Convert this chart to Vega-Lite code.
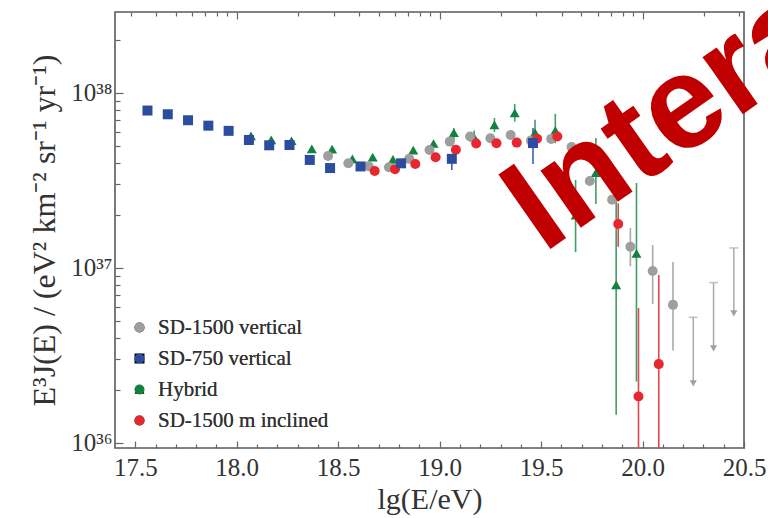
{
  "$schema": "https://vega.github.io/schema/vega-lite/v6.json",
  "width": 629,
  "height": 436,
  "autosize": {"type": "none"},
  "padding": {"left": 115, "top": 12, "right": 24, "bottom": 70},
  "background": "white",
  "config": {
    "view": {"stroke": "#5a5a5a", "strokeWidth": 1.6},
    "font": "Liberation Serif",
    "axis": {"domain": false, "grid": false, "tickColor": "#666666", "tickWidth": 1.2, "labelColor": "#333333", "titleColor": "#333333", "labelFont": "Liberation Serif", "titleFont": "Liberation Serif", "titleFontWeight": "normal", "labelFlush": false, "labelOverlap": false},
    "legend": {"labelFont": "Liberation Serif", "labelFontSize": 21, "labelColor": "#333333", "labelLimit": 0, "symbolSize": 100, "rowPadding": 9, "padding": 0, "labelOffset": 8, "symbolStrokeWidth": 0}
  },
  "datasets": {
    "pts": [
      {"s": "Hybrid", "lg": 18.07, "f": 5.68e37},
      {"s": "Hybrid", "lg": 18.17, "f": 5.39e37},
      {"s": "Hybrid", "lg": 18.27, "f": 5.33e37},
      {"s": "Hybrid", "lg": 18.37, "f": 4.79e37},
      {"s": "Hybrid", "lg": 18.47, "f": 4.77e37},
      {"s": "Hybrid", "lg": 18.57, "f": 4.2e37},
      {"s": "Hybrid", "lg": 18.67, "f": 4.3e37},
      {"s": "Hybrid", "lg": 18.77, "f": 4.17e37},
      {"s": "Hybrid", "lg": 18.87, "f": 4.71e37},
      {"s": "Hybrid", "lg": 18.97, "f": 5.14e37},
      {"s": "Hybrid", "lg": 19.07, "f": 5.93e37, "lo": 5.25e37, "hi": 6.31e37},
      {"s": "Hybrid", "lg": 19.17, "f": 5.58e37, "lo": 5.16e37, "hi": 6.1e37},
      {"s": "Hybrid", "lg": 19.27, "f": 6.56e37, "lo": 5.98e37, "hi": 7.19e37},
      {"s": "Hybrid", "lg": 19.37, "f": 7.69e37, "lo": 6.86e37, "hi": 8.65e37},
      {"s": "Hybrid", "lg": 19.47, "f": 5.94e37, "lo": 5.27e37, "hi": 7.02e37},
      {"s": "Hybrid", "lg": 19.57, "f": 6.1e37, "lo": 5.16e37, "hi": 7.59e37},
      {"s": "Hybrid", "lg": 19.67, "f": 2.0e37, "lo": 1.23e37, "hi": 3.18e37},
      {"s": "Hybrid", "lg": 19.77, "f": 3.5e37, "lo": 2.32e37, "hi": 5.53e37},
      {"s": "Hybrid", "lg": 19.87, "f": 8.0e36, "lo": 1.45e36, "hi": 2.45e37},
      {"s": "Hybrid", "lg": 19.97, "f": 1.21e37, "lo": 2.24e36, "hi": 3.06e37},
      {"s": "SD-1500 vertical", "lg": 18.45, "f": 4.36e37},
      {"s": "SD-1500 vertical", "lg": 18.55, "f": 3.96e37},
      {"s": "SD-1500 vertical", "lg": 18.65, "f": 3.81e37},
      {"s": "SD-1500 vertical", "lg": 18.75, "f": 3.76e37},
      {"s": "SD-1500 vertical", "lg": 18.85, "f": 4.2e37},
      {"s": "SD-1500 vertical", "lg": 18.95, "f": 4.72e37},
      {"s": "SD-1500 vertical", "lg": 19.05, "f": 5.27e37},
      {"s": "SD-1500 vertical", "lg": 19.15, "f": 5.63e37},
      {"s": "SD-1500 vertical", "lg": 19.25, "f": 5.51e37},
      {"s": "SD-1500 vertical", "lg": 19.35, "f": 5.75e37},
      {"s": "SD-1500 vertical", "lg": 19.45, "f": 5.34e37},
      {"s": "SD-1500 vertical", "lg": 19.55, "f": 5.46e37},
      {"s": "SD-1500 vertical", "lg": 19.65, "f": 4.91e37},
      {"s": "SD-1500 vertical", "lg": 19.74, "f": 3.14e37},
      {"s": "SD-1500 vertical", "lg": 19.85, "f": 2.45e37},
      {"s": "SD-1500 vertical", "lg": 19.94, "f": 1.32e37, "lo": 1.02e37, "hi": 1.69e37},
      {"s": "SD-1500 vertical", "lg": 20.05, "f": 9.6e36, "lo": 6.22e36, "hi": 1.35e37},
      {"s": "SD-1500 vertical", "lg": 20.15, "f": 6.15e36, "lo": 3.37e36, "hi": 1.08e37},
      {"s": "SD-1500 m inclined", "lg": 18.68, "f": 3.58e37},
      {"s": "SD-1500 m inclined", "lg": 18.78, "f": 3.66e37},
      {"s": "SD-1500 m inclined", "lg": 18.88, "f": 3.92e37},
      {"s": "SD-1500 m inclined", "lg": 18.98, "f": 4.29e37},
      {"s": "SD-1500 m inclined", "lg": 19.08, "f": 4.73e37},
      {"s": "SD-1500 m inclined", "lg": 19.18, "f": 5.14e37},
      {"s": "SD-1500 m inclined", "lg": 19.28, "f": 5.16e37},
      {"s": "SD-1500 m inclined", "lg": 19.38, "f": 5.2e37},
      {"s": "SD-1500 m inclined", "lg": 19.48, "f": 5.48e37},
      {"s": "SD-1500 m inclined", "lg": 19.58, "f": 5.64e37},
      {"s": "SD-1500 m inclined", "lg": 19.88, "f": 1.78e37, "lo": 1.32e37, "hi": 2.34e37},
      {"s": "SD-1500 m inclined", "lg": 19.98, "f": 1.84e36, "lo": 3e35, "hi": 5.9e36},
      {"s": "SD-1500 m inclined", "lg": 20.08, "f": 2.82e36, "lo": 3e35, "hi": 9.12e36},
      {"s": "SD-750 vertical", "lg": 17.56, "f": 7.93e37},
      {"s": "SD-750 vertical", "lg": 17.66, "f": 7.55e37},
      {"s": "SD-750 vertical", "lg": 17.76, "f": 6.98e37},
      {"s": "SD-750 vertical", "lg": 17.86, "f": 6.5e37},
      {"s": "SD-750 vertical", "lg": 17.96, "f": 6.07e37},
      {"s": "SD-750 vertical", "lg": 18.06, "f": 5.38e37},
      {"s": "SD-750 vertical", "lg": 18.16, "f": 5.02e37},
      {"s": "SD-750 vertical", "lg": 18.26, "f": 5.04e37},
      {"s": "SD-750 vertical", "lg": 18.36, "f": 4.14e37},
      {"s": "SD-750 vertical", "lg": 18.46, "f": 3.72e37},
      {"s": "SD-750 vertical", "lg": 18.61, "f": 3.8e37},
      {"s": "SD-750 vertical", "lg": 18.81, "f": 3.96e37},
      {"s": "SD-750 vertical", "lg": 19.06, "f": 4.2e37, "lo": 3.63e37, "hi": 4.43e37},
      {"s": "SD-750 vertical", "lg": 19.46, "f": 5.17e37, "lo": 3.93e37, "hi": 6.31e37}
    ],
    "ul": [
      {"lg": 20.25, "cap": 5.22e36, "ar": 2.19e36},
      {"lg": 20.35, "cap": 8.24e36, "ar": 3.47e36},
      {"lg": 20.45, "cap": 1.30e37, "ar": 5.5e36}
    ],
    "wm": [
      {"lg": 19.51, "f": 1.2e37, "t": "Intera"}
    ]
  },
  "layer": [
    {
      "data": {"name": "pts"},
      "mark": {"type": "point", "opacity": 0},
      "encoding": {
        "x": {"field": "lg", "type": "quantitative", "scale": {"domain": [17.4, 20.5], "nice": false, "zero": false},
              "axis": {"orient": "bottom", "values": [17.6,17.7,17.8,17.9,18.1,18.2,18.3,18.4,18.6,18.7,18.8,18.9,19.1,19.2,19.3,19.4,19.6,19.7,19.8,19.9,20.1,20.2,20.3,20.4], "labels": false, "tickSize": -4, "title": null}},
        "y": {"field": "f", "type": "quantitative", "scale": {"type": "log", "domain": [9.35e35, 2.9e38], "nice": false},
              "axis": {"orient": "left", "values": [2e36,3e36,4e36,5e36,6e36,7e36,8e36,9e36,2e37,3e37,4e37,5e37,6e37,7e37,8e37,9e37,2e38], "labels": false, "tickSize": -5, "title": null}}
      }
    },
    {
      "data": {"name": "pts"},
      "mark": {"type": "point", "opacity": 0},
      "encoding": {
        "x": {"field": "lg", "type": "quantitative", "scale": {"domain": [17.4, 20.5], "nice": false, "zero": false},
              "axis": {"orient": "top", "values": [18, 19, 20], "labels": false, "tickSize": -7, "title": null}},
        "y": {"field": "f", "type": "quantitative", "scale": {"type": "log", "domain": [9.35e35, 2.9e38], "nice": false}, "axis": null}
      }
    },
    {
      "data": {"name": "pts"},
      "mark": {"type": "point", "opacity": 0},
      "encoding": {
        "x": {"field": "lg", "type": "quantitative", "scale": {"domain": [17.4, 20.5], "nice": false, "zero": false},
              "axis": {"orient": "top", "values": [17.47712,17.60206,17.69897,17.77815,17.8451,17.90309,17.95424,18.30103,18.47712,18.60206,18.69897,18.77815,18.8451,18.90309,18.95424,19.30103,19.47712,19.60206,19.69897,19.77815,19.8451,19.90309,19.95424,20.30103,20.47712], "labels": false, "tickSize": -4, "title": null}},
        "y": {"field": "f", "type": "quantitative", "scale": {"type": "log", "domain": [9.35e35, 2.9e38], "nice": false}, "axis": null}
      }
    },
    {
      "data": {"name": "pts"},
      "transform": [{"filter": "isValid(datum.lo)"}],
      "mark": {"type": "rule", "strokeWidth": 1.6, "clip": true},
      "encoding": {
        "x": {"field": "lg", "type": "quantitative", "scale": {"domain": [17.4, 20.5], "nice": false, "zero": false},
              "axis": {"orient": "bottom", "values": [17.5, 18, 18.5, 19, 19.5, 20, 20.5], "format": ".1f", "tickSize": -7, "labelPadding": 14, "labelFontSize": 25, "title": "lg(E/eV)", "titleFontSize": 30, "titlePadding": 4}},
        "y": {"field": "lo", "type": "quantitative", "scale": {"type": "log", "domain": [9.35e35, 2.9e38], "nice": false},
              "axis": {"orient": "left", "values": [1e36, 1e37, 1e38], "tickSize": -8, "labelPadding": 11, "labelFontSize": 25,
                       "labelExpr": "round(log(datum.value)/LN10) == 36 ? '10³⁶' : round(log(datum.value)/LN10) == 37 ? '10³⁷' : '10³⁸'",
                       "title": "E³J(E) / (eV² km⁻² sr⁻¹ yr⁻¹)", "titleFontSize": 32, "titlePadding": 9}},
        "y2": {"field": "hi"},
        "color": {"field": "s", "type": "nominal", "legend": null,
                  "scale": {"domain": ["SD-1500 vertical", "SD-750 vertical", "Hybrid", "SD-1500 m inclined"], "range": ["#aaaaaa", "#4061b0", "#3f9e68", "#e4464e"]}}
      }
    },
    {
      "data": {"name": "ul"},
      "mark": {"type": "rule", "strokeWidth": 1.5, "color": "#aaaaaa"},
      "encoding": {
        "x": {"field": "lg", "type": "quantitative", "scale": {"domain": [17.4, 20.5], "nice": false, "zero": false}, "axis": null},
        "y": {"field": "cap", "type": "quantitative", "scale": {"type": "log", "domain": [9.35e35, 2.9e38], "nice": false}, "axis": null},
        "y2": {"field": "ar"}
      }
    },
    {
      "data": {"name": "ul"},
      "mark": {"type": "tick", "orient": "horizontal", "size": 9, "thickness": 1.5, "color": "#aaaaaa"},
      "encoding": {
        "x": {"field": "lg", "type": "quantitative", "scale": {"domain": [17.4, 20.5], "nice": false, "zero": false}, "axis": null},
        "y": {"field": "cap", "type": "quantitative", "scale": {"type": "log", "domain": [9.35e35, 2.9e38], "nice": false}, "axis": null}
      }
    },
    {
      "data": {"name": "ul"},
      "mark": {"type": "point", "shape": "triangle-down", "filled": true, "size": 50, "opacity": 1, "color": "#a0a0a0"},
      "encoding": {
        "x": {"field": "lg", "type": "quantitative", "scale": {"domain": [17.4, 20.5], "nice": false, "zero": false}, "axis": null},
        "y": {"field": "ar", "type": "quantitative", "scale": {"type": "log", "domain": [9.35e35, 2.9e38], "nice": false}, "axis": null}
      }
    },
    {
      "data": {"name": "pts"},
      "mark": {"type": "point", "filled": true, "size": 100, "opacity": 1},
      "encoding": {
        "x": {"field": "lg", "type": "quantitative", "scale": {"domain": [17.4, 20.5], "nice": false, "zero": false}, "axis": null},
        "y": {"field": "f", "type": "quantitative", "scale": {"type": "log", "domain": [9.35e35, 2.9e38], "nice": false}, "axis": null},
        "color": {"field": "s", "type": "nominal",
                  "scale": {"domain": ["SD-1500 vertical", "SD-750 vertical", "Hybrid", "SD-1500 m inclined"], "range": ["#9e9e9e", "#2b4c9f", "#13813f", "#e8262f"]},
                  "legend": {"orient": "none", "legendX": 14, "legendY": 305, "title": null}},
        "shape": {"field": "s", "type": "nominal",
                  "scale": {"domain": ["SD-1500 vertical", "SD-750 vertical", "Hybrid", "SD-1500 m inclined"], "range": ["circle", "square", "triangle-up", "circle"]},
                  "legend": {"orient": "none", "legendX": 14, "legendY": 305, "title": null}}
      }
    },
    {
      "data": {"name": "wm"},
      "mark": {"type": "text", "font": "Liberation Sans", "fontWeight": "bold", "fontSize": 132, "angle": 325, "align": "left", "baseline": "alphabetic", "color": "#c00000"},
      "encoding": {
        "x": {"field": "lg", "type": "quantitative", "scale": {"domain": [17.4, 20.5], "nice": false, "zero": false}, "axis": null},
        "y": {"field": "f", "type": "quantitative", "scale": {"type": "log", "domain": [9.35e35, 2.9e38], "nice": false}, "axis": null},
        "text": {"field": "t"}
      }
    }
  ],
  "resolve": {"axis": {"x": "independent", "y": "independent"}, "scale": {"color": "independent"}}
}
